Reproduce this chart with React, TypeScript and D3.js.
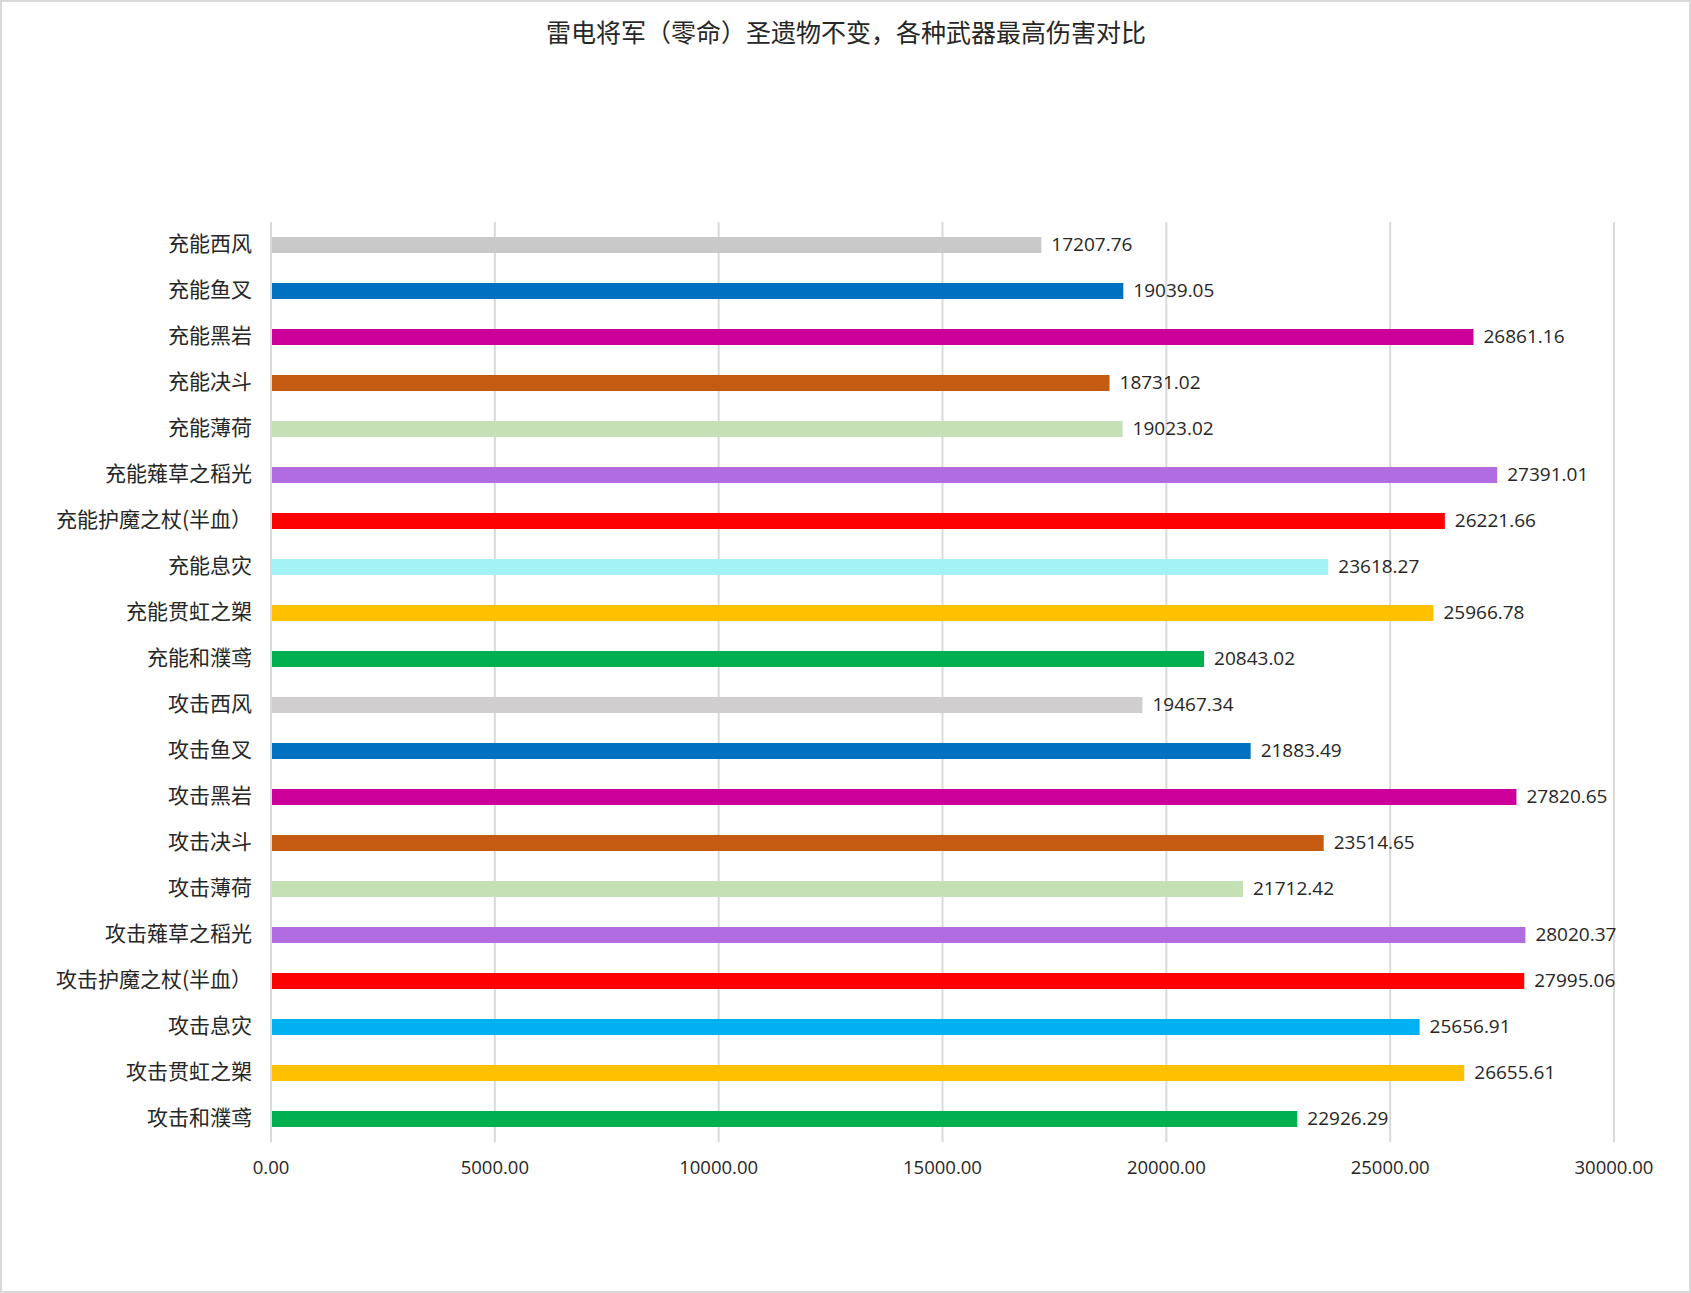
import React from "react";
import * as d3 from "d3";

const categories: string[] = [
  "充能西风", "充能鱼叉", "充能黑岩", "充能决斗", "充能薄荷",
  "充能薙草之稻光", "充能护魔之杖(半血）", "充能息灾", "充能贯虹之槊", "充能和濮鸢",
  "攻击西风", "攻击鱼叉", "攻击黑岩", "攻击决斗", "攻击薄荷",
  "攻击薙草之稻光", "攻击护魔之杖(半血）", "攻击息灾", "攻击贯虹之槊", "攻击和濮鸢",
];

const damage: number[] = [
  17207.76, 19039.05, 26861.16, 18731.02, 19023.02,
  27391.01, 26221.66, 23618.27, 25966.78, 20843.02,
  19467.34, 21883.49, 27820.65, 23514.65, 21712.42,
  28020.37, 27995.06, 25656.91, 26655.61, 22926.29,
];

const barColors: string[] = [
  "#C9C9C9", "#0070C0", "#CC0099", "#C55A11", "#C5E0B4",
  "#B06CE0", "#FF0000", "#A3F2F6", "#FFC000", "#00B050",
  "#D0CECE", "#0070C0", "#CC0099", "#C55A11", "#C5E0B4",
  "#B06CE0", "#FF0000", "#00B0F0", "#FFC000", "#00B050",
];

const xTicks: number[] = [0, 5000, 10000, 15000, 20000, 25000, 30000];

const title = "雷电将军（零命）圣遗物不变，各种武器最高伤害对比";

const W = 1691;
const H = 1293;
const plotLeft = 271;
const plotRight = 1614;
const plotTop = 222;
const plotBottom = 1142;

const numFont = "'Open Sans', 'Noto Sans CJK SC', sans-serif";
const cjkFont = "'Noto Sans CJK SC', 'Noto Sans', sans-serif";
const textColor = "#262626";

export default function App() {
  const x = d3.scaleLinear().domain([0, 30000]).range([plotLeft, plotRight]);
  const y = d3
    .scaleBand<string>()
    .domain(categories)
    .range([plotTop, plotBottom])
    .paddingInner(0.652)
    .paddingOuter(0.326);
  const fmt = d3.format(".2f");

  return (
    <svg
      width={W}
      height={H}
      style={{ position: "fixed", left: 0, top: 0, background: "#fff" }}
    >
      <rect x={0} y={0} width={W} height={H} fill="#fff" />
      <rect x={1} y={1} width={W - 2} height={H - 2} fill="none" stroke="#d9d9d9" strokeWidth={2} />
      <text
        x={846}
        y={31}
        textAnchor="middle"
        dominantBaseline="central"
        fontFamily={cjkFont}
        fontSize={25}
        fill={textColor}
      >
        {title}
      </text>
      {xTicks.map((t) => (
        <g key={t}>
          <line
            x1={x(t)}
            x2={x(t)}
            y1={plotTop}
            y2={plotBottom}
            stroke="#d9d9d9"
            strokeWidth={2}
          />
          <text
            x={x(t)}
            y={1166}
            textAnchor="middle"
            dominantBaseline="central"
            fontFamily={numFont}
            fontSize={18.5}
            fill={textColor}
          >
            {fmt(t)}
          </text>
        </g>
      ))}
      {categories.map((c, i) => {
        const by = y(c) as number;
        const cy = by + y.bandwidth() / 2;
        return (
          <g key={c}>
            <rect
              x={x(0) + 1}
              y={by}
              width={x(damage[i]) - x(0) - 1}
              height={y.bandwidth()}
              fill={barColors[i]}
            />
            <text
              x={252}
              y={cy - 3}
              textAnchor="end"
              dominantBaseline="central"
              fontFamily={cjkFont}
              fontSize={21}
              fill={textColor}
            >
              {c}
            </text>
            <text
              x={x(damage[i]) + 10}
              y={cy - 1}
              textAnchor="start"
              dominantBaseline="central"
              fontFamily={numFont}
              fontSize={19}
              fill={textColor}
            >
              {fmt(damage[i])}
            </text>
          </g>
        );
      })}
    </svg>
  );
}
